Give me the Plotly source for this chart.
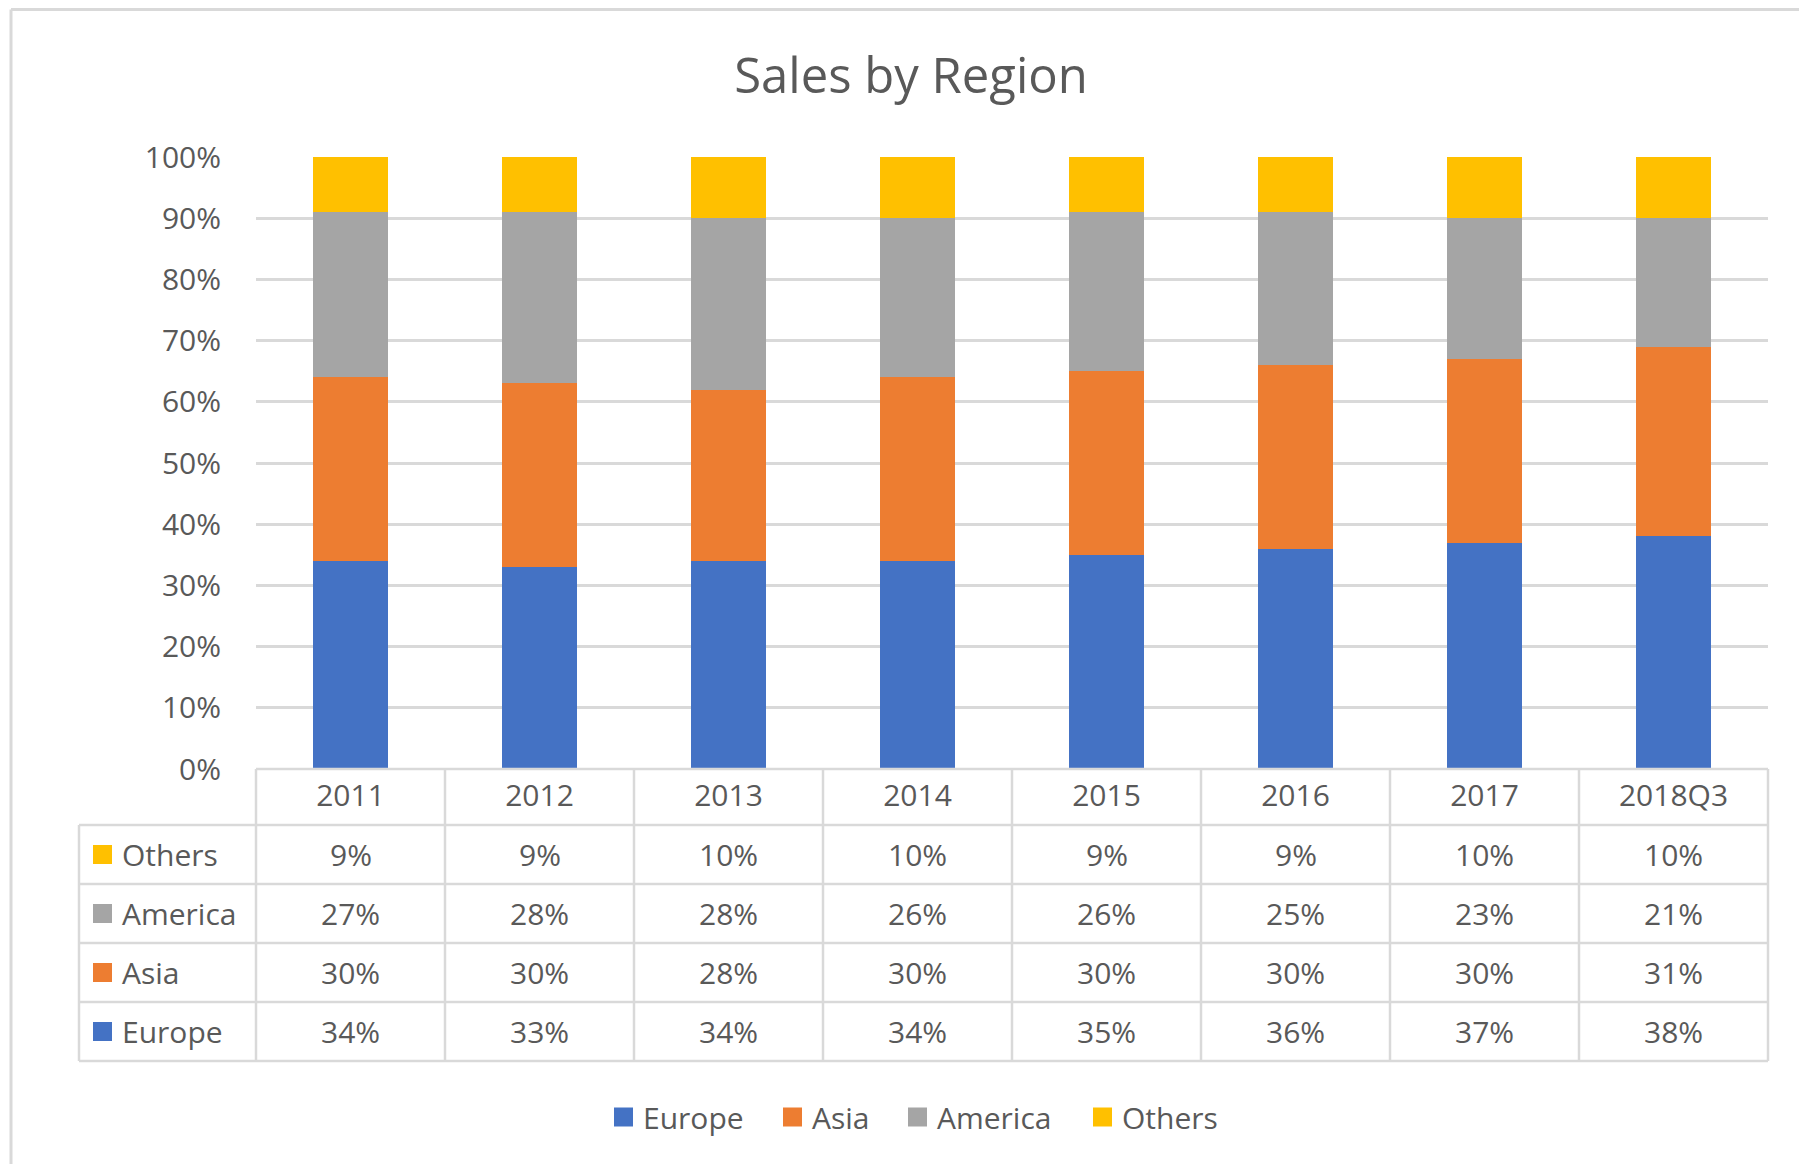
import plotly.graph_objects as go

categories = ["2011", "2012", "2013", "2014", "2015", "2016", "2017", "2018Q3"]
europe = [34, 33, 34, 34, 35, 36, 37, 38]
asia = [30, 30, 28, 30, 30, 30, 30, 31]
america = [27, 28, 28, 26, 26, 25, 23, 21]
others = [9, 9, 10, 10, 9, 9, 10, 10]

series_names = ["Europe", "Asia", "America", "Others"]
series_values = [europe, asia, america, others]
series_colors = ["#4472C4", "#ED7D31", "#A5A5A5", "#FFC000"]

# page offset (default body margin of the html page)
OFF = 8
PAGE_W, PAGE_H = 1807, 1172
W, H = PAGE_W - 2 * OFF, PAGE_H - 2 * OFF
# plot area in page pixels
PX_L, PX_R, PX_T, PX_B = 256, 1768, 157, 769
L, T = PX_L - OFF, PX_T - OFF
R = W - (PX_R - OFF)
B = H - (PX_B - OFF)
PW, PH = W - L - R, H - T - B
TXT = "#595959"
GRID = "#D9D9D9"
FONT = "Open Sans"


def px_x(px):
    return (px - OFF - L) / PW


def px_y(py):
    return (H - B - (py - OFF)) / PH


fig = go.Figure()
for name, vals, col in zip(series_names, series_values, series_colors):
    fig.add_trace(go.Bar(
        x=categories, y=[v / 100 for v in vals], name=name,
        marker=dict(color=col, line=dict(width=0)), showlegend=False,
    ))

# ---- data table under the chart ----
n = len(categories)
row_top = 769
header_h = 56
row_h = 59
row_order = ["Others", "America", "Asia", "Europe"]
left_px = 79

shapes = []
line = dict(color=GRID, width=2.5)
shapes.append(dict(type="line", xref="paper", yref="paper",
                   x0=0, x1=1, y0=px_y(row_top), y1=px_y(row_top), line=line))
ys = [row_top + header_h + k * row_h for k in range(len(row_order) + 1)]
for yy in ys:
    shapes.append(dict(type="line", xref="paper", yref="paper",
                       x0=px_x(left_px), x1=1, y0=px_y(yy), y1=px_y(yy), line=line))
for i in range(n + 1):
    xp = i / n
    shapes.append(dict(type="line", xref="paper", yref="paper",
                       x0=xp, x1=xp, y0=px_y(row_top), y1=px_y(ys[-1]), line=line))
shapes.append(dict(type="line", xref="paper", yref="paper",
                   x0=px_x(left_px), x1=px_x(left_px), y0=px_y(ys[0]), y1=px_y(ys[-1]), line=line))

# outer chart border (top & left)
border_top = OFF + 1.5
shapes.append(dict(type="line", xref="paper", yref="paper",
                   x0=px_x(11), x1=px_x(PAGE_W), y0=px_y(border_top), y1=px_y(border_top),
                   line=dict(color=GRID, width=3)))
shapes.append(dict(type="line", xref="paper", yref="paper",
                   x0=px_x(11), x1=px_x(11), y0=px_y(border_top), y1=px_y(PAGE_H),
                   line=dict(color=GRID, width=3)))

annotations = []
lookup = dict(zip(series_names, series_values))
colmap = dict(zip(series_names, series_colors))
for r, name in enumerate(row_order):
    yc = ys[r] + row_h / 2
    shapes.append(dict(type="rect", xref="paper", yref="paper",
                       x0=px_x(93), x1=px_x(112), y0=px_y(yc - 9.5), y1=px_y(yc + 9.5),
                       fillcolor=colmap[name], line=dict(width=0)))
    annotations.append(dict(xref="paper", yref="paper", x=px_x(120), y=px_y(yc),
                            xanchor="left", yanchor="middle", text=name, showarrow=False,
                            font=dict(family=FONT, size=30, color=TXT)))
    for i, v in enumerate(lookup[name]):
        annotations.append(dict(xref="x", yref="paper", x=i, y=px_y(yc),
                                xanchor="center", yanchor="middle", text=f"{v}%",
                                showarrow=False, font=dict(family=FONT, size=30, color=TXT)))

# ---- legend below the table ----
legend_y = 1117
legend_marker_x = [614, 783, 908, 1093]
for name, col, mx in zip(series_names, series_colors, legend_marker_x):
    shapes.append(dict(type="rect", xref="paper", yref="paper",
                       x0=px_x(mx), x1=px_x(mx + 19), y0=px_y(legend_y - 9.5), y1=px_y(legend_y + 9.5),
                       fillcolor=col, line=dict(width=0)))
    annotations.append(dict(xref="paper", yref="paper", x=px_x(mx + 27), y=px_y(legend_y),
                            xanchor="left", yanchor="middle", text=name, showarrow=False,
                            font=dict(family=FONT, size=30, color=TXT)))

fig.update_layout(
    width=W, height=H,
    margin=dict(l=L, r=R, t=T, b=B),
    paper_bgcolor="white", plot_bgcolor="white",
    barmode="stack", bargap=0.608, showlegend=False,
    title=dict(text="Sales by Region", x=(911 - OFF) / W, xanchor="center",
               y=1 - (76 - OFF) / H, yanchor="middle",
               font=dict(family=FONT, size=49, color=TXT)),
    font=dict(family=FONT, color=TXT),
    xaxis=dict(showgrid=False, zeroline=False, showline=False, ticks="",
               tickfont=dict(family=FONT, size=30, color=TXT), ticklabelstandoff=6,
               range=[-0.5, n - 0.5]),
    yaxis=dict(range=[0, 1], dtick=0.1, tickformat=".0%", showgrid=True, gridcolor=GRID,
               gridwidth=2.5, zeroline=False, showline=False, ticks="",
               ticklabelstandoff=34,
               tickfont=dict(family=FONT, size=30, color=TXT)),
    shapes=shapes, annotations=annotations,
)

fig.write_html("out.html")
